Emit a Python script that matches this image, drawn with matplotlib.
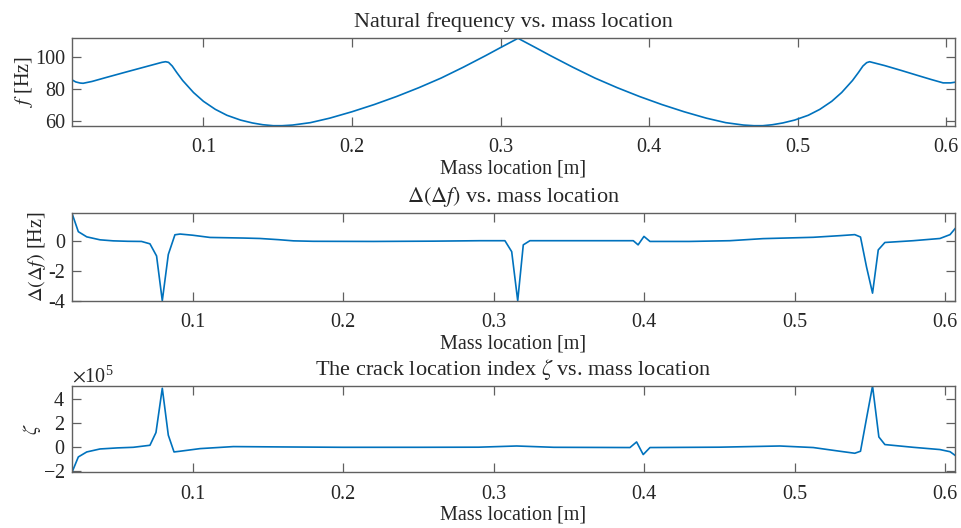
import numpy as np
import matplotlib
matplotlib.use("Agg")
import matplotlib.pyplot as plt
from matplotlib.ticker import ScalarFormatter

plt.rcParams['font.family'] = ['Liberation Serif', 'DejaVu Serif']
plt.rcParams['mathtext.fontset'] = 'stix'
plt.rcParams['axes.unicode_minus'] = False

# ---- Panel 1: natural frequency vs mass location ----
x_freq = [0.0115, 0.014, 0.017, 0.019, 0.025, 0.035, 0.048, 0.060, 0.068, 0.072,
          0.0745, 0.0765, 0.079, 0.082, 0.086, 0.0933, 0.100, 0.108, 0.1158, 0.125,
          0.133, 0.140, 0.147, 0.153, 0.160, 0.172, 0.185, 0.200, 0.215, 0.230,
          0.245, 0.260, 0.275, 0.290, 0.300, 0.3118, 0.3236, 0.3336, 0.3486, 0.3636,
          0.3786, 0.3936, 0.4086, 0.4236, 0.4386, 0.4516, 0.4636, 0.4706, 0.4766, 0.483,
          0.490, 0.498, 0.5072, 0.515, 0.523, 0.5297, 0.537, 0.541, 0.544, 0.5465,
          0.5485, 0.5586, 0.570, 0.581, 0.590, 0.598, 0.603, 0.606]
freq = [85.9, 84.6, 83.9, 83.75, 84.9, 87.5, 90.8, 93.8, 95.8, 96.8,
        97.2, 96.8, 94.5, 90.5, 85.5, 78.0, 72.5, 67.5, 63.8, 60.8,
        59.0, 57.9, 57.3, 57.3, 57.7, 59.2, 62.0, 66.0, 70.5, 75.5,
        81.0, 87.0, 93.8, 101.0, 106.0, 111.8, 106.0, 101.0, 93.8, 87.0,
        81.0, 75.5, 70.5, 66.0, 62.0, 59.2, 57.7, 57.3, 57.3, 57.9,
        59.0, 60.8, 63.8, 67.5, 72.5, 78.0, 85.5, 90.5, 94.5, 96.6,
        97.2, 94.8, 91.7, 88.6, 86.1, 84.0, 84.0, 84.4]

# ---- Panel 2: Delta(Delta f) vs mass location ----
x_ddf = [0.0198, 0.024, 0.0296, 0.0384, 0.0472, 0.057, 0.066, 0.0716, 0.076, 0.0798,
         0.0838, 0.0882, 0.0916, 0.100, 0.1115, 0.1336, 0.1447, 0.157, 0.167, 0.180,
         0.220, 0.260, 0.291, 0.3075, 0.312, 0.316, 0.3197, 0.3241, 0.350, 0.3928,
         0.396, 0.3999, 0.4039, 0.430, 0.457, 0.479, 0.5124, 0.530, 0.540, 0.5438,
         0.5478, 0.5518, 0.5556, 0.560, 0.5788, 0.5966, 0.6033, 0.6066]
ddf = [1.9, 0.66, 0.31, 0.11, 0.04, 0.01, 0.0, -0.16, -0.98, -4.0,
       -0.88, 0.45, 0.5, 0.42, 0.27, 0.23, 0.2, 0.12, 0.04, 0.01,
       0.0, 0.02, 0.05, 0.05, -0.69, -4.0, -0.23, 0.05, 0.05, 0.05,
       -0.23, 0.34, 0.0, 0.0, 0.05, 0.19, 0.28, 0.39, 0.46, 0.3,
       -1.72, -3.49, -0.57, -0.07, 0.05, 0.2, 0.46, 0.86]

# ---- Panel 3: crack location index zeta vs mass location ----
x_zeta = [0.0198, 0.024, 0.0296, 0.0384, 0.050, 0.0605, 0.0716, 0.0756, 0.0798, 0.0838,
          0.0876, 0.0916, 0.1049, 0.127, 0.160, 0.200, 0.250, 0.290, 0.3153, 0.340,
          0.3906, 0.395, 0.3994, 0.4039, 0.450, 0.4902, 0.5124, 0.530, 0.540, 0.5438,
          0.5478, 0.5518, 0.556, 0.560, 0.5788, 0.5966, 0.6033, 0.6066]
zeta = [-2.13e5, -0.84e5, -0.42e5, -0.17e5, -0.08e5, -0.03e5, 0.14e5, 1.21e5, 4.93e5, 0.99e5,
        -0.42e5, -0.36e5, -0.14e5, 0.03e5, 0.0, -0.03e5, -0.03e5, -0.02e5, 0.08e5, -0.03e5,
        -0.05e5, 0.42e5, -0.64e5, -0.05e5, -0.02e5, 0.08e5, -0.05e5, -0.36e5, -0.53e5, -0.36e5,
        2.4e5, 5.12e5, 0.84e5, 0.2e5, -0.03e5, -0.22e5, -0.4e5, -0.7e5]

xticks = [0.1, 0.2, 0.3, 0.4, 0.5, 0.6]
xticklabels = ['0.1', '0.2', '0.3', '0.4', '0.5', '0.6']

panels = [
    dict(x=x_freq, y=freq, title='Natural frequency vs. mass location',
         ylabel='$f$ [Hz]', yticks=[60, 80, 100], sci=False),
    dict(x=x_ddf, y=ddf, title=r'$\Delta(\Delta f)$ vs. mass location',
         ylabel=r'$\Delta(\Delta f)$ [Hz]', yticks=[-4, -2, 0], sci=False),
    dict(x=x_zeta, y=zeta, title=r'The crack location index $\zeta$ vs. mass location',
         ylabel=r'$\zeta$', yticks=[-2e5, 0, 2e5, 4e5], sci=True),
]

W, H = 962, 528
fig = plt.figure(figsize=(W / 100, H / 100), dpi=100)
boxes = [(38.3, 125.7), (213.3, 300.7), (386.0, 472.3)]
left, right = 72, 955
line_color = '#0072BD'
edge = '#606060'
fs = 14.5

for p, (top, bot) in zip(panels, boxes):
    ax = fig.add_axes([left / W, 1 - bot / H, (right - left) / W, (bot - top) / H])
    ax.plot(p['x'], p['y'], color=line_color, lw=1.2)
    ax.set_xlim(min(p['x']), max(p['x']))
    ax.set_ylim(min(p['y']), max(p['y']))
    ax.set_xticks(xticks)
    ax.set_xticklabels(xticklabels)
    ax.set_yticks(p['yticks'])
    if p['sci']:
        fmt = ScalarFormatter(useMathText=True)
        fmt.set_powerlimits((0, 0))
        ax.yaxis.set_major_formatter(fmt)
        ax.yaxis.get_offset_text().set_fontsize(fs)
    ax.tick_params(direction='in', length=6.3, width=0.9, colors=edge,
                   labelcolor='#262626', labelsize=fs, top=True, right=True)
    ax.tick_params(axis='x', pad=9)
    ax.tick_params(axis='y', pad=5)
    for s in ax.spines.values():
        s.set_color(edge)
        s.set_linewidth(1.0)
    ax.set_title(p['title'], fontsize=16, pad=8, color='#262626')
    ax.set_xlabel('Mass location [m]', fontsize=fs, labelpad=1.5, color='#262626')
    ax.set_ylabel(p['ylabel'], fontsize=fs, labelpad=0, color='#262626')

fig.savefig('out.png', dpi=100)
